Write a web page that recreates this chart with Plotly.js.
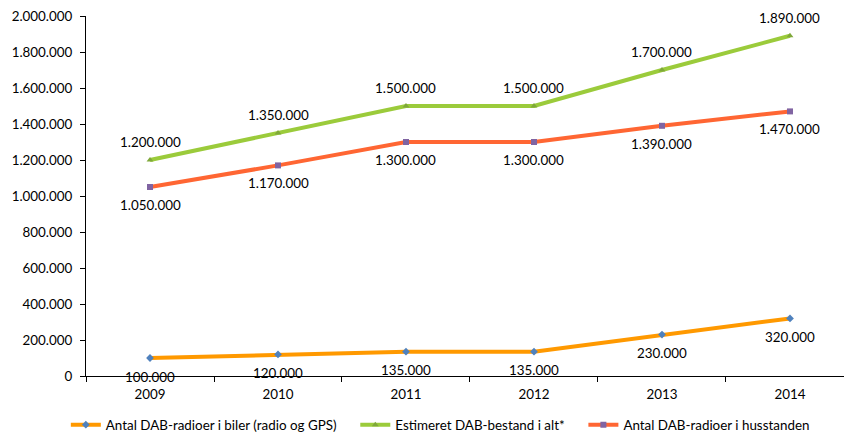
<!DOCTYPE html>
<html>
<head>
<meta charset="utf-8">
<script src="https://cdn.plot.ly/plotly-3.0.1.min.js"></script>
<style>html,body{margin:0;padding:0;background:#fff;}#chart{width:844px;height:435px;}</style>
</head>
<body>
<div id="chart"></div>
<script>
const years = ['2009', '2010', '2011', '2012', '2013', '2014'];
const seriesNames = ['Antal DAB-radioer i biler (radio og GPS)', 'Estimeret DAB-bestand i alt*', 'Antal DAB-radioer i husstanden'];
const biler = [100000, 120000, 135000, 135000, 230000, 320000];
const iAlt = [1200000, 1350000, 1500000, 1500000, 1700000, 1890000];
const husstanden = [1050000, 1170000, 1300000, 1300000, 1390000, 1470000];
const yTicks = [0, 200000, 400000, 600000, 800000, 1000000, 1200000, 1400000, 1600000, 1800000, 2000000];

const fontFam = 'Lato, "Open Sans", sans-serif';
const fmt = v => String(v).replace(/\B(?=(\d{3})+(?!\d))/g, '.');
const pad = '\u00a0\u00a0\u00a0\u00a0';

const styles = [
  {data: biler, line: '#FF9900', mcolor: '#4F81BD', symbol: 'diamond', shift: -18.5, size: 6},
  {data: iAlt, line: '#9BCB3B', mcolor: '#7FA83A', symbol: 'triangle-up', shift: 18, size: 6},
  {data: husstanden, line: '#FF6633', mcolor: '#8064A2', symbol: 'square', shift: -18, size: 6}
];

const traces = styles.map((s, i) => ({
  type: 'scatter', mode: 'lines+markers', name: seriesNames[i] + (i < 2 ? pad : ''),
  x: years, y: s.data,
  line: {color: s.line, width: 4},
  marker: {color: s.mcolor, symbol: s.symbol, size: s.size},
  hoverinfo: 'none'
}));

const annotations = [];
styles.forEach(s => {
  s.data.forEach((v, j) => {
    annotations.push({x: j, y: v, xref: 'x', yref: 'y', text: fmt(v), showarrow: false,
      yshift: s.shift, xanchor: 'center', yanchor: 'middle',
      font: {family: fontFam, size: 13.4, color: '#000000'}});
  });
});

const layout = {
  width: 844, height: 435,
  margin: {l: 86, r: 0, t: 16, b: 59, autoexpand: false},
  paper_bgcolor: '#fff', plot_bgcolor: '#fff',
  font: {family: fontFam, size: 13.4, color: '#000'},
  showlegend: true,
  legend: {orientation: 'h', xref: 'container', yref: 'container', x: 0.078, xanchor: 'left',
    y: 0.023, yanchor: 'middle',
    font: {family: fontFam, size: 13.4, color: '#000'}, itemwidth: 30, traceorder: 'normal'},
  xaxis: {type: 'category', range: [-0.5, 5.422], showgrid: false, zeroline: false,
    showline: true, linecolor: '#000', linewidth: 1, ticks: 'outside', ticklen: 5,
    tickcolor: '#000', tickson: 'boundaries', ticklabelstandoff: 6, fixedrange: true},
  yaxis: {range: [0, 2000000], tickvals: yTicks, ticktext: yTicks.map(fmt), showgrid: false,
    zeroline: false, showline: true, linecolor: '#000', linewidth: 1, ticks: 'outside',
    ticklen: 5, tickcolor: '#000', ticklabelstandoff: 5, fixedrange: true},
  annotations: annotations
};

Plotly.newPlot('chart', traces, layout, {displayModeBar: false});
</script>
</body>
</html>
